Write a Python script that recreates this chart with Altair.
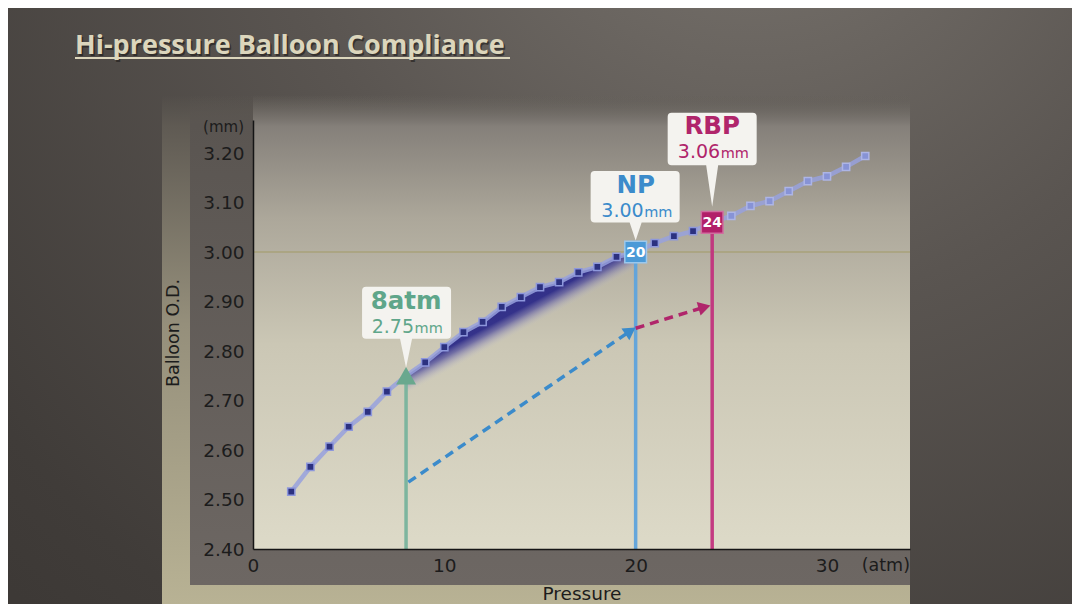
import altair as alt
import pandas as pd

# ---------------- data ----------------
pressure = list(range(2, 33))
balloon_od = [2.516, 2.566, 2.607, 2.647, 2.677, 2.718, 2.750, 2.777, 2.808, 2.838,
              2.859, 2.889, 2.909, 2.929, 2.939, 2.959, 2.970, 2.990, 3.000, 3.018,
              3.032, 3.042, 3.060, 3.073, 3.093, 3.103, 3.123, 3.143, 3.153, 3.172, 3.194]

x_ticks = [0, 10, 20, 30]
y_ticks = [2.40, 2.50, 2.60, 2.70, 2.80, 2.90, 3.00, 3.10, 3.20]

callout_names = ["8atm", "NP", "RBP"]
callout_pressure = [8, 20, 24]
callout_od = [2.75, 3.00, 3.06]
callout_od_text = ["2.75", "3.00", "3.06"]

ref_od = 3.00
base_od = 2.40

blue_arrow_p = [8.12, 19.73]
blue_arrow_od = [2.535, 2.8406]
red_arrow_p = [20.0, 23.60]
red_arrow_od = [2.846, 2.8887]

title_text = "Hi-pressure Balloon Compliance"

# ---------------- layout / style ----------------
W, H = 657, 429
PAD = {"left": 245, "top": 112, "right": 162, "bottom": 55}
XS = alt.Scale(domain=[0, 34.34], nice=False, zero=False)
YS = alt.Scale(domain=[2.40, 3.2667], nice=False, zero=False)
FONT = "DejaVu Sans"

GREEN = "#5fa68a"
BLUE = "#3b8bcb"
MAGENTA = "#b0256b"
INK = "#1c1c1c"

AXIS_X = alt.Axis(values=x_ticks, title=None, ticks=False, grid=False, domainColor="#151515",
                  domainWidth=1.5, labelColor=INK, labelFont=FONT, labelFontSize=18.5,
                  labelPadding=7, labelFlush=False, zindex=1)
AXIS_Y = alt.Axis(values=y_ticks, format=".2f", title=None, ticks=False, grid=False,
                  domainColor="#151515", domainWidth=1.5, labelColor=INK, labelFont=FONT,
                  labelFontSize=18.5, labelPadding=9, labelFlush=False, zindex=1)


def X(f="p"):
    return alt.X(f"{f}:Q", scale=XS, axis=AXIS_X, title=None)


def Y(f="od"):
    return alt.Y(f"{f}:Q", scale=YS, axis=AXIS_Y, title=None)


one = pd.DataFrame({"k": [0]})
df = pd.DataFrame({"p": pressure, "od": balloon_od})
df_dark = df[(df.p <= 23) & (~df.p.isin(callout_pressure))]
df_light = df[df.p >= 25]
df_shade = df[(df.p >= 8) & (df.p <= 20)]


def lin(stops, x1=0, y1=0, x2=0, y2=1):
    return alt.LinearGradient(gradient="linear",
                              stops=[alt.GradientStop(offset=o, color=c) for o, c in stops],
                              x1=x1, y1=y1, x2=x2, y2=y2)


def callout_path(l, r, t, b, tip, pw=6, rad=4):
    return (f"M{l+rad},{t} L{r-rad},{t} Q{r},{t} {r},{t+rad} L{r},{b-rad} Q{r},{b} {r-rad},{b} "
            f"L{pw},{b} L0,{tip} L{-pw},{b} L{l+rad},{b} Q{l},{b} {l},{b-rad} L{l},{t+rad} Q{l},{t} {l+rad},{t} Z")


# box geometry (pixels relative to the anchored point) and text offsets
geom = [
    dict(l=-44, r=45, t=-89, b=-37, tip=-8, d1=-67, d2=-43),
    dict(l=-45, r=44, t=-81, b=-29.5, tip=-11.5, d1=-59.5, d2=-35.5),
    dict(l=-44.5, r=44.5, t=-109.5, b=-57, tip=-15.5, d1=-88, d2=-64),
]
call_colors = [GREEN, BLUE, MAGENTA]
line_colors = ["#78b39c", "#5ea3dc", "#c2327d"]

df_calls = pd.DataFrame({
    "name": callout_names, "p": callout_pressure, "od": callout_od,
    "odtxt": callout_od_text, "base": [base_od] * 3,
    "lc": line_colors,
    "path": [callout_path(g["l"], g["r"], g["t"], g["b"], g["tip"]) for g in geom],
})

# ---------------- backgrounds ----------------
bg = alt.Chart(one).mark_rect(
    color=alt.RadialGradient(gradient="radial",
                             stops=[alt.GradientStop(offset=0, color="#7a756f"),
                                    alt.GradientStop(offset=0.45, color="#5a5551"),
                                    alt.GradientStop(offset=0.9, color="#403c39"),
                                    alt.GradientStop(offset=1, color="#3d3936")],
                             x1=0.7, y1=0.05, r1=0, x2=0.7, y2=0.05, r2=1.0)
).encode(x=alt.value(-PAD["left"]), x2=alt.value(W + PAD["right"]),
         y=alt.value(-PAD["top"]), y2=alt.value(H + PAD["bottom"]))

frame = alt.Chart(one).mark_rect(
    color=lin([(0, "rgba(94,90,83,0)"), (0.06, "#5f5a53"), (0.45, "#958f7b"), (1, "#b8b294")])
).encode(x=alt.value(-91), x2=alt.value(W), y=alt.value(-25), y2=alt.value(H + PAD["bottom"]))

panel = alt.Chart(one).mark_rect(
    color=lin([(0, "rgba(88,83,79,0)"), (0.06, "#5a5551"), (1, "#6d6763")])
).encode(x=alt.value(-63), x2=alt.value(W), y=alt.value(-25), y2=alt.value(465))

plotbg = alt.Chart(one).mark_rect(
    color=lin([(0, "rgba(120,116,110,0)"), (0.07, "#85807a"), (0.27, "#aca79a"),
               (0.55, "#cbc7b5"), (1, "#dddac8")])
).encode(x=alt.value(0), x2=alt.value(W), y=alt.value(-25), y2=alt.value(H))

# ---------------- texts outside the plot ----------------
title_shadow = alt.Chart(one).mark_text(
    text=title_text, font="Open Sans", fontWeight="bold", fontSize=27, align="left",
    baseline="alphabetic", color="#1e1b19", opacity=0.6
).encode(x=alt.value(-176.5), y=alt.value(-64.5))
title = alt.Chart(one).mark_text(
    text=title_text, font="Open Sans", fontWeight="bold", fontSize=27, align="left",
    baseline="alphabetic", color="#dcd6bc"
).encode(x=alt.value(-178), y=alt.value(-66))
underline = alt.Chart(one).mark_rule(color="#dcd6bc", strokeWidth=1.8).encode(
    x=alt.value(-178), x2=alt.value(257), y=alt.value(-62))

mm_txt = alt.Chart(one).mark_text(text="(mm)", font=FONT, fontSize=15, align="right",
                                  baseline="middle", color=INK).encode(
    x=alt.value(-9), y=alt.value(7))
atm_txt = alt.Chart(one).mark_text(text="(atm)", font=FONT, fontSize=17.5, align="right",
                                   baseline="middle", color=INK).encode(
    x=alt.value(W), y=alt.value(446))
ytitle = alt.Chart(one).mark_text(text="Balloon O.D.", font=FONT, fontSize=17.5, angle=270,
                                  align="center", baseline="middle", color=INK).encode(
    x=alt.value(-79), y=alt.value(213))
xtitle = alt.Chart(one).mark_text(text="Pressure", font=FONT, fontSize=18.5, align="center",
                                  baseline="middle", color=INK).encode(
    x=alt.value(329), y=alt.value(474))

# ---------------- plot content ----------------
ref_rule = alt.Chart(pd.DataFrame({"od": [ref_od]})).mark_rule(
    color="#a9a27a", strokeWidth=1.5).encode(y=Y())

shade = alt.Chart(df_shade).mark_area(
    opacity=1,
    color=lin([(0, "rgba(36,34,126,0.95)"), (0.44, "rgba(40,38,135,0.92)"),
               (0.52, "rgba(65,62,155,0.65)"), (0.60, "rgba(120,118,185,0.3)"),
               (0.68, "rgba(190,190,210,0)")],
              x1=0.442, y1=0.071, x2=0.558, y2=0.348)
).encode(x=X(), y=Y(), y2=alt.datum(base_od))

line = alt.Chart(df).mark_line(color="#98a1dd", strokeWidth=4.5, opacity=0.85).encode(
    x=X(), y=Y())

vrules = alt.Chart(df_calls).mark_rule(strokeWidth=3.5, opacity=0.95).encode(
    x=X(), y=Y("base"), y2="od:Q", color=alt.Color("lc:N", scale=None))

blue_dash = alt.Chart(pd.DataFrame({"p": blue_arrow_p, "od": blue_arrow_od})).mark_line(
    color=BLUE, strokeWidth=3.5, strokeDash=[9, 6]).encode(x=X(), y=Y())
red_dash = alt.Chart(pd.DataFrame({"p": red_arrow_p, "od": red_arrow_od})).mark_line(
    color=MAGENTA, strokeWidth=3.5, strokeDash=[9, 6]).encode(x=X(), y=Y())

heads = alt.Chart(pd.DataFrame({
    "p": [blue_arrow_p[1], red_arrow_p[1]], "od": [blue_arrow_od[1], red_arrow_od[1]],
    "ang": [56, 74], "c": [BLUE, MAGENTA]})).mark_point(
    shape="triangle-up", size=200, filled=True, opacity=1).encode(
    x=X(), y=Y(), angle=alt.Angle("ang:Q", scale=None), color=alt.Color("c:N", scale=None))

dark_pts = alt.Chart(df_dark).mark_square(size=52, color="#2c3180", stroke="#8d97dc",
                                          strokeWidth=1.5, opacity=1).encode(x=X(), y=Y())
light_pts = alt.Chart(df_light).mark_square(size=52, color="#8793d6", stroke="#adb5e6",
                                            strokeWidth=1.5, opacity=1).encode(x=X(), y=Y())

tri = alt.Chart(df_calls[df_calls.p == callout_pressure[0]]).mark_point(
    shape="triangle-up", size=400, filled=True, color="#69a88e", opacity=1).encode(x=X(), y=Y())

df_sq = df_calls[df_calls.p != callout_pressure[0]].copy()
df_sq["fill"] = ["#4b9ad7", "#b21f69"]
df_sq["edge"] = ["#9cc8ec", "#d06d9f"]
df_sq["lab"] = [str(v) for v in df_sq.p]
squares = alt.Chart(df_sq).mark_square(size=470, strokeWidth=1.5, opacity=1).encode(
    x=X(), y=Y(), fill=alt.Fill("fill:N", scale=None), stroke=alt.Stroke("edge:N", scale=None))
sq_text = alt.Chart(df_sq).mark_text(font=FONT, fontWeight="bold", fontSize=14,
                                     color="white", baseline="middle", dy=1).encode(
    x=X(), y=Y(), text="lab:N")

boxes = alt.Chart(df_calls).mark_point(size=4, filled=True, fill="#f4f3ef", opacity=1,
                                       strokeWidth=0).encode(
    x=X(), y=Y(), shape=alt.Shape("path:N", scale=None))

texts = []
for i in range(3):
    d = df_calls.iloc[[i]]
    g = geom[i]
    texts.append(alt.Chart(d).mark_text(font=FONT, fontWeight="bold", fontSize=24.5,
                                        color=call_colors[i], baseline="alphabetic",
                                        align="center", dy=g["d1"]).encode(
        x=X(), y=Y(), text="name:N"))
    texts.append(alt.Chart(d).mark_text(font=FONT, fontSize=19, color=call_colors[i],
                                        baseline="alphabetic", align="right", dx=8,
                                        dy=g["d2"]).encode(x=X(), y=Y(), text="odtxt:N"))
    texts.append(alt.Chart(d).mark_text(font=FONT, fontSize=14.5, color=call_colors[i],
                                        baseline="alphabetic", align="left", dx=8.5,
                                        dy=g["d2"], text="mm").encode(x=X(), y=Y()))

chart = alt.layer(
    bg, frame, panel, plotbg, title_shadow, title, underline, mm_txt, atm_txt, ytitle, xtitle,
    ref_rule, shade, line, vrules, blue_dash, red_dash, heads, dark_pts, light_pts,
    tri, squares, sq_text, boxes, *texts
).properties(
    width=W, height=H, padding=PAD, autosize=alt.AutoSizeParams(type="none"),
    background="#4a4643"
).configure_view(stroke=None)

chart.save("out.html", embed_options={"renderer": "svg", "actions": False})
